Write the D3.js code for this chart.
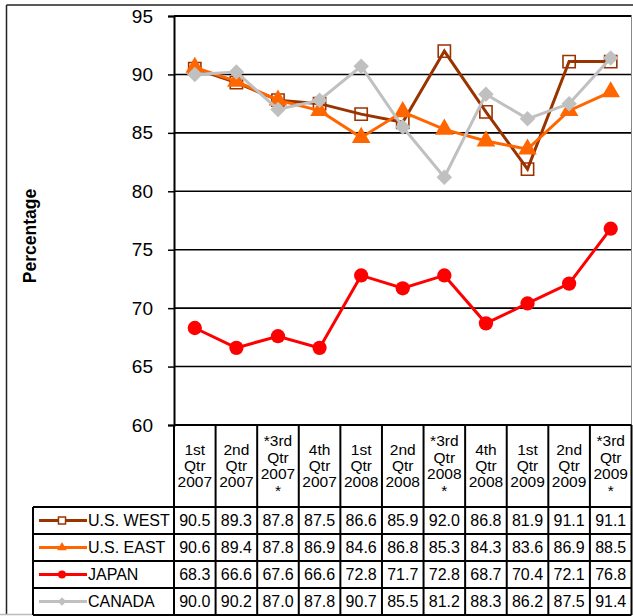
<!DOCTYPE html>
<html>
<head>
<meta charset="utf-8">
<script src="https://cdn.jsdelivr.net/npm/d3@7"></script>
<style>
  html, body { margin: 0; padding: 0; background: #fff; }
  svg { display: block; font-family: "Liberation Sans", Arial, sans-serif; }
</style>
</head>
<body>
<svg id="chart" width="633" height="616"></svg>
<script>
// Quarter labels (each line of a header cell separated by "|")
const quarters = [
  "1st|Qtr|2007", "2nd|Qtr|2007", "*3rd|Qtr|2007|*", "4th|Qtr|2007",
  "1st|Qtr|2008", "2nd|Qtr|2008", "*3rd|Qtr|2008|*", "4th|Qtr|2008",
  "1st|Qtr|2009", "2nd|Qtr|2009", "*3rd|Qtr|2009|*"
];

const usWest  = [90.5, 89.3, 87.8, 87.5, 86.6, 85.9, 92.0, 86.8, 81.9, 91.1, 91.1];
const usEast  = [90.6, 89.4, 87.8, 86.9, 84.6, 86.8, 85.3, 84.3, 83.6, 86.9, 88.5];
const japan   = [68.3, 66.6, 67.6, 66.6, 72.8, 71.7, 72.8, 68.7, 70.4, 72.1, 76.8];
const canada  = [90.0, 90.2, 87.0, 87.8, 90.7, 85.5, 81.2, 88.3, 86.2, 87.5, 91.4];

const seriesNames = ["U.S. WEST", "U.S. EAST", "JAPAN", "CANADA"];
const yTicks = [60, 65, 70, 75, 80, 85, 90, 95];
const yLabel = "Percentage";

const seriesData = [usWest, usEast, japan, canada];
const seriesColors = ["#993300", "#FF6600", "#FF0000", "#C0C0C0"];
const seriesSymbols = [d3.symbolSquare, d3.symbolTriangle, d3.symbolCircle, d3.symbolSquare];
const seriesRotate = [0, 0, 0, 45];

const svg = d3.select("#chart");

// Plot geometry
const plotLeft = 174, plotRight = 631.5, plotTop = 16, plotBottom = 425;
const tableTop = plotBottom, headerBottom = 507, rowH = 27;
const legendLeft = 33;

const x = d3.scaleBand().domain(d3.range(quarters.length)).range([plotLeft, plotRight]).padding(0);
const y = d3.scaleLinear().domain([60, 95]).range([plotBottom, plotTop]);

// Outer frame
svg.append("line").attr("x1", 6.5).attr("x2", 633).attr("y1", 5).attr("y2", 5)
  .attr("stroke", "#222").attr("stroke-width", 1.5);
svg.append("line").attr("x1", 6.5).attr("x2", 6.5).attr("y1", 5).attr("y2", 614)
  .attr("stroke", "#222").attr("stroke-width", 1.5);
svg.append("line").attr("x1", 0).attr("x2", legendLeft).attr("y1", 614.5).attr("y2", 614.5)
  .attr("stroke", "#bbb").attr("stroke-width", 1.5);

// Gridlines
svg.append("g").selectAll("line").data(yTicks.filter(t => t > 60 && t < 95)).join("line")
  .attr("x1", plotLeft).attr("x2", plotRight)
  .attr("y1", d => y(d)).attr("y2", d => y(d))
  .attr("stroke", "#000").attr("stroke-width", 1.6);

// Plot top and right borders
svg.append("line").attr("x1", plotLeft).attr("x2", plotRight).attr("y1", y(95)).attr("y2", y(95))
  .attr("stroke", "#000").attr("stroke-width", 2);
svg.append("line").attr("x1", plotRight).attr("x2", plotRight).attr("y1", y(95)).attr("y2", plotBottom)
  .attr("stroke", "#888").attr("stroke-width", 1);

// Y axis
const yAxis = d3.axisLeft(y).tickValues(yTicks).tickSize(6).tickPadding(15).tickFormat(d3.format("d"));
const gy = svg.append("g").attr("transform", `translate(${plotLeft},0)`).call(yAxis);
gy.select(".domain").attr("stroke", "#000").attr("stroke-width", 2);
gy.selectAll(".tick line").attr("stroke", "#000").attr("stroke-width", 1.5);
gy.selectAll(".tick text").attr("font-size", 19).attr("fill", "#000")
  .attr("font-family", "'Liberation Sans', Arial, sans-serif");

// Y axis title
svg.append("text")
  .attr("transform", `translate(36,236) rotate(-90)`)
  .attr("text-anchor", "middle")
  .attr("font-size", 17.5).attr("font-weight", "bold").attr("fill", "#000")
  .text(yLabel);

// Data table grid
const tableG = svg.append("g").attr("stroke", "#000").attr("stroke-width", 2);
const tableBottom = headerBottom + rowH * seriesNames.length;
// horizontal lines
tableG.append("line").attr("x1", plotLeft).attr("x2", plotRight).attr("y1", tableTop).attr("y2", tableTop);
d3.range(seriesNames.length + 1).forEach(i => {
  const yy = headerBottom + i * rowH;
  tableG.append("line").attr("x1", legendLeft).attr("x2", plotRight).attr("y1", yy).attr("y2", yy);
});
// vertical lines
d3.range(quarters.length + 1).forEach(i => {
  const xx = i < quarters.length ? x(i) : plotRight;
  tableG.append("line").attr("x1", xx).attr("x2", xx).attr("y1", tableTop).attr("y2", tableBottom);
});
tableG.append("line").attr("x1", legendLeft).attr("x2", legendLeft).attr("y1", headerBottom).attr("y2", tableBottom);

// Header labels
const lineH = 16.4;
const headerMid = (tableTop + headerBottom) / 2 + 5;
quarters.forEach((q, i) => {
  const lines = q.split("|");
  const cx = x(i) + x.bandwidth() / 2;
  const first = headerMid - (lines.length - 1) * lineH / 2;
  const t = svg.append("text").attr("text-anchor", "middle").attr("font-size", 15.5).attr("fill", "#000");
  lines.forEach((ln, k) => {
    t.append("tspan").attr("x", cx).attr("y", first + k * lineH).text(ln);
  });
});

// Data values
seriesData.forEach((vals, s) => {
  const yy = headerBottom + s * rowH + rowH / 2 + 5.5;
  svg.append("g").selectAll("text").data(vals).join("text")
    .attr("x", (d, i) => x(i) + x.bandwidth() / 2)
    .attr("y", yy)
    .attr("text-anchor", "middle").attr("font-size", 16).attr("fill", "#000")
    .text(d => d.toFixed(1));
});

// Legend keys in the table
const legendSize = [50, 40, 50, 36];
seriesNames.forEach((name, s) => {
  const cy = headerBottom + s * rowH + rowH / 2;
  svg.append("line").attr("x1", 39).attr("x2", 87).attr("y1", cy).attr("y2", cy)
    .attr("stroke", seriesColors[s]).attr("stroke-width", 3);
  const sym = svg.append("path")
    .attr("transform", `translate(62,${cy}) rotate(${seriesRotate[s]})`)
    .attr("d", d3.symbol(seriesSymbols[s], legendSize[s])());
  if (s === 0) sym.attr("fill", "#fff").attr("stroke", seriesColors[s]).attr("stroke-width", 1.5);
  else sym.attr("fill", seriesColors[s]);
  svg.append("text").attr("x", 88).attr("y", cy + 5.5)
    .attr("font-size", 16).attr("fill", "#000").text(name);
});

// Series lines and markers
const line = d3.line().x((d, i) => x(i) + x.bandwidth() / 2).y(d => y(d));
const markerSize = [150, 150, 160, 120];
seriesData.forEach((vals, s) => {
  const g = svg.append("g");
  g.append("path").datum(vals).attr("d", line)
    .attr("fill", "none").attr("stroke", seriesColors[s]).attr("stroke-width", 3)
    .attr("stroke-linejoin", "miter");
  const pts = g.selectAll("path.m").data(vals).join("path").attr("class", "m")
    .attr("transform", (d, i) => `translate(${x(i) + x.bandwidth() / 2},${y(d)}) rotate(${seriesRotate[s]})`)
    .attr("d", d3.symbol(seriesSymbols[s], markerSize[s])());
  if (s === 0) pts.attr("fill", "none").attr("stroke", seriesColors[s]).attr("stroke-width", 1.6);
  else pts.attr("fill", seriesColors[s]);
});
</script>
</body>
</html>
